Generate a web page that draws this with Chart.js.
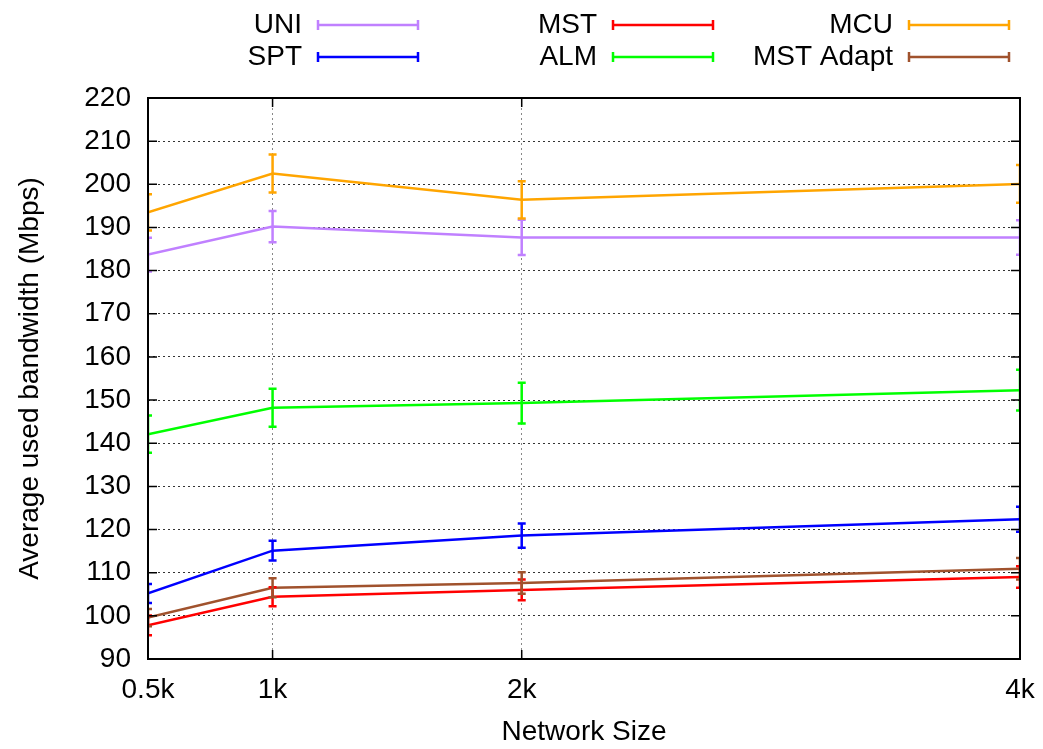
<!DOCTYPE html>
<html>
<head>
<meta charset="utf-8">
<script src="https://cdn.jsdelivr.net/npm/chart.js@4/dist/chart.umd.min.js"></script>
<style>
  html, body { margin: 0; padding: 0; background: #fff; }
  #wrap { width: 1043px; height: 749px; position: relative; }
</style>
</head>
<body>
<div id="wrap"><canvas id="chart"></canvas></div>
<script>
// network sizes (in thousands of nodes)
const sizes = [0.5, 1, 2, 4];
const sizeLabels = ['0.5k', '1k', '2k', '4k'];

// average used bandwidth (Mbps) and error half-widths
const uni = [183.7, 190.2, 187.7, 187.7];
const uniErr = [3.9, 3.6, 4.1, 4.0];
const spt = [105.2, 115.1, 118.6, 122.4];
const sptErr = [2.2, 2.3, 2.8, 2.9];
const mst = [97.8, 104.4, 106.0, 109.0];
const mstErr = [2.3, 2.2, 2.4, 2.5];
const alm = [142.1, 148.2, 149.3, 152.3];
const almErr = [4.3, 4.4, 4.7, 4.7];
const mcu = [193.5, 202.5, 196.4, 200.1];
const mcuErr = [4.2, 4.4, 4.3, 4.4];
const mstAdapt = [99.6, 106.5, 107.6, 110.9];
const mstAdaptErr = [2.0, 2.2, 2.5, 2.5];

const FONT = "'Liberation Sans', Arial, Helvetica, sans-serif";

function series(label, values, errs, color) {
  return {
    label: label,
    data: values.map((v, i) => ({ x: sizes[i], y: v })),
    errors: errs,
    borderColor: color,
    backgroundColor: color,
    borderWidth: 2.5,
    pointRadius: 0,
    tension: 0
  };
}

// error bars, frame, inward ticks
const errorBars = {
  id: 'errorBars',
  afterDatasetsDraw(chart) {
    const ctx = chart.ctx;
    const area = chart.chartArea;
    const xs = chart.scales.x, ys = chart.scales.y;
    ctx.save();
    ctx.beginPath();
    ctx.rect(area.left, area.top, area.right - area.left, area.bottom - area.top);
    ctx.clip();
    chart.data.datasets.forEach(ds => {
      ctx.strokeStyle = ds.borderColor;
      ctx.lineWidth = 2.5;
      ds.data.forEach((p, i) => {
        const x = xs.getPixelForValue(p.x);
        const y1 = ys.getPixelForValue(p.y - ds.errors[i]);
        const y2 = ys.getPixelForValue(p.y + ds.errors[i]);
        ctx.beginPath();
        ctx.moveTo(x, y1); ctx.lineTo(x, y2);
        ctx.moveTo(x - 4, y1); ctx.lineTo(x + 4, y1);
        ctx.moveTo(x - 4, y2); ctx.lineTo(x + 4, y2);
        ctx.stroke();
      });
    });
    ctx.restore();

    ctx.save();
    ctx.strokeStyle = '#000';
    ctx.lineWidth = 2;
    ctx.strokeRect(area.left, area.top, area.right - area.left, area.bottom - area.top);
    ctx.lineWidth = 1.5;
    ctx.beginPath();
    ys.ticks.forEach(t => {
      const y = ys.getPixelForValue(t.value);
      ctx.moveTo(area.left, y); ctx.lineTo(area.left + 9, y);
      ctx.moveTo(area.right, y); ctx.lineTo(area.right - 9, y);
    });
    xs.ticks.forEach(t => {
      const x = xs.getPixelForValue(t.value);
      ctx.moveTo(x, area.bottom); ctx.lineTo(x, area.bottom - 9);
      ctx.moveTo(x, area.top); ctx.lineTo(x, area.top + 9);
    });
    ctx.stroke();
    ctx.restore();
  }
};

// gnuplot style legend: text then sample line
const keyLegend = {
  id: 'keyLegend',
  afterDraw(chart) {
    const ctx = chart.ctx;
    const textRight = [302, 597, 893];
    const rowY = [25, 57];
    ctx.save();
    ctx.font = '28px ' + FONT;
    ctx.textAlign = 'right';
    ctx.textBaseline = 'middle';
    chart.data.datasets.forEach((ds, i) => {
      const col = Math.floor(i / 2), row = i % 2;
      const tx = textRight[col], ty = rowY[row];
      ctx.fillStyle = '#000';
      ctx.fillText(ds.label, tx, ty);
      ctx.strokeStyle = ds.borderColor;
      ctx.lineWidth = 2.5;
      ctx.beginPath();
      ctx.moveTo(tx + 16, ty); ctx.lineTo(tx + 116, ty);
      ctx.moveTo(tx + 16, ty - 5); ctx.lineTo(tx + 16, ty + 5);
      ctx.moveTo(tx + 116, ty - 5); ctx.lineTo(tx + 116, ty + 5);
      ctx.stroke();
    });
    ctx.restore();
  }
};

new Chart(document.getElementById('chart').getContext('2d'), {
  type: 'line',
  data: {
    datasets: [
      series('UNI', uni, uniErr, '#c080ff'),
      series('SPT', spt, sptErr, '#0000ff'),
      series('MST', mst, mstErr, '#ff0000'),
      series('ALM', alm, almErr, '#00ff00'),
      series('MCU', mcu, mcuErr, '#ffa500'),
      series('MST Adapt', mstAdapt, mstAdaptErr, '#a0522d')
    ]
  },
  options: {
    responsive: true,
    maintainAspectRatio: false,
    animation: false,
    layout: { padding: { top: 98, right: 23, left: 0, bottom: 0 } },
    plugins: { legend: { display: false }, tooltip: { enabled: false } },
    scales: {
      x: {
        type: 'linear',
        min: 0.5,
        max: 4,
        afterBuildTicks: scale => { scale.ticks = sizes.map(v => ({ value: v })); },
        afterFit: scale => {
          scale.height = 90;
          scale.paddingLeft = 0;
          scale.paddingRight = 0;
        },
        ticks: {
          color: '#000',
          font: { family: FONT, size: 28 },
          padding: 14,
          maxRotation: 0,
          callback: v => sizeLabels[sizes.indexOf(v)]
        },
        grid: { color: '#888', lineWidth: 1, drawTicks: false },
        border: { display: false, dash: [2, 3] },
        title: {
          display: true,
          text: 'Network Size',
          color: '#000',
          font: { family: FONT, size: 28 },
          padding: { top: 0, bottom: 0 }
        }
      },
      y: {
        min: 90,
        max: 220,
        afterFit: scale => { scale.width = 148; },
        ticks: {
          stepSize: 10,
          color: '#000',
          font: { family: FONT, size: 28 },
          padding: 17
        },
        grid: { color: '#333', lineWidth: 1, drawTicks: false },
        border: { display: false, dash: [2, 3] },
        title: {
          display: true,
          text: 'Average used bandwidth (Mbps)',
          color: '#000',
          font: { family: FONT, size: 28 },
          padding: { top: 13, bottom: 0 }
        }
      }
    }
  },
  plugins: [errorBars, keyLegend]
});
</script>
</body>
</html>
